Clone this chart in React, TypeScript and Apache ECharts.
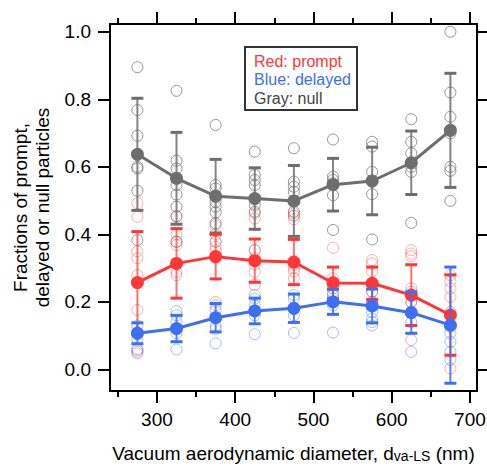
import React, { useEffect, useRef } from "react";
import * as echarts from "echarts";

// ---- data ----
const sizes = [275, 325, 375, 425, 475, 525, 575, 625, 675];

const grayMean = [0.637, 0.566, 0.513, 0.506, 0.499, 0.547, 0.558, 0.612, 0.708];
const graySd = [0.166, 0.136, 0.109, 0.091, 0.105, 0.078, 0.1, 0.094, 0.169];
const redMean = [0.257, 0.314, 0.334, 0.322, 0.318, 0.256, 0.255, 0.22, 0.161];
const redSd = [0.151, 0.103, 0.066, 0.064, 0.067, 0.047, 0.048, 0.09, 0.119];
const blueMean = [0.107, 0.121, 0.153, 0.173, 0.181, 0.2, 0.188, 0.168, 0.131];
const blueSd = [0.031, 0.039, 0.042, 0.038, 0.042, 0.037, 0.05, 0.061, 0.172];

const grayPoints = [
  [0.895, 0.768, 0.692, 0.6, 0.595, 0.529, 0.383],
  [0.825, 0.618, 0.595, 0.546, 0.518, 0.482, 0.454, 0.378],
  [0.724, 0.546, 0.536, 0.496, 0.482, 0.465, 0.433, 0.378],
  [0.645, 0.576, 0.561, 0.546, 0.487, 0.467, 0.353],
  [0.655, 0.556, 0.541, 0.526, 0.497, 0.467, 0.455],
  [0.681, 0.571, 0.561, 0.551, 0.516, 0.413],
  [0.674, 0.66, 0.585, 0.558, 0.519, 0.385],
  [0.741, 0.674, 0.64, 0.6, 0.585, 0.434],
  [1.0, 0.82, 0.748, 0.699, 0.6, 0.588, 0.499],
];
const redPoints = [
  [0.492, 0.452, 0.35, 0.329, 0.279, 0.176, 0.057, 0.047],
  [0.452, 0.4, 0.378, 0.368, 0.289, 0.279],
  [0.427, 0.4, 0.363, 0.353, 0.33, 0.2],
  [0.462, 0.447, 0.33, 0.31, 0.289, 0.25],
  [0.462, 0.445, 0.31, 0.3, 0.29, 0.27],
  [0.36, 0.27, 0.26, 0.25, 0.24, 0.225],
  [0.324, 0.314, 0.29, 0.25, 0.23, 0.2],
  [0.353, 0.343, 0.335, 0.24, 0.2, 0.087],
  [0.279, 0.26, 0.24, 0.215, 0.003],
];
const bluePoints = [
  [0.13, 0.11, 0.09, 0.06, 0.052],
  [0.173, 0.16, 0.14, 0.107, 0.059],
  [0.19, 0.175, 0.13, 0.12, 0.077],
  [0.22, 0.21, 0.19, 0.16, 0.104],
  [0.22, 0.21, 0.18, 0.16, 0.108],
  [0.22, 0.21, 0.19, 0.109],
  [0.23, 0.2, 0.17, 0.15, 0.14, 0.13],
  [0.23, 0.2, 0.17, 0.14, 0.052],
  [0.17, 0.126, 0.107, 0.082, 0.052, 0.028],
];

const xMajorTicks = [300, 400, 500, 600, 700];
const xMinorTicks = [250, 350, 450, 550, 650];
const yTicks = [0, 0.2, 0.4, 0.6, 0.8, 1.0];

const legendLines = ["Red: prompt", "Blue: delayed", "Gray: null"];

// ---- styles ----
const FONT = "'Liberation Sans', Arial, Helvetica, sans-serif";
const RED = "#ff3636";
const BLUE = "#3d6ff3";
const GRAY = "#6e6e6e";
const RED_PT = "rgba(255,70,70,0.55)";
const BLUE_PT = "rgba(60,110,245,0.55)";
const GRAY_PT = "#7c7c7c";
const X_MIN = 240;
const X_MAX = 709;
const Y_MIN = -0.064;
const Y_MAX = 1.023;

const pts = (arr: number[][]) =>
  sizes.flatMap((x, i) => arr[i].map((v) => [x, v]));

const scatterSeries = (name: string, arr: number[][], color: string) => ({
  name,
  type: "scatter",
  data: pts(arr),
  symbol: "circle",
  symbolSize: 11,
  itemStyle: { color: "rgba(0,0,0,0)", borderColor: color, borderWidth: 1 },
  z: 2,
});

const errSeries = (name: string, mean: number[], sd: number[], color: string, z: number, stemOpacity: number) => ({
  name,
  type: "custom",
  data: sizes.map((x, i) => [x, mean[i], sd[i]]),
  encode: { x: 0, y: 1 },
  z,
  renderItem: (params: any, api: any) => {
    const x = api.value(0);
    const m = api.value(1);
    const s = api.value(2);
    const top = api.coord([x, m + s]);
    const bot = api.coord([x, m - s]);
    const hw = 6;
    return {
      type: "group",
      children: [
        { type: "line", shape: { x1: top[0], y1: top[1], x2: bot[0], y2: bot[1] }, style: { stroke: color, lineWidth: 2, opacity: stemOpacity } },
        { type: "line", shape: { x1: top[0] - hw, y1: top[1], x2: top[0] + hw, y2: top[1] }, style: { stroke: color, lineWidth: 3 } },
        { type: "line", shape: { x1: bot[0] - hw, y1: bot[1], x2: bot[0] + hw, y2: bot[1] }, style: { stroke: color, lineWidth: 3 } },
      ],
    };
  },
});

const meanSeries = (name: string, mean: number[], color: string, z: number) => ({
  name,
  type: "line",
  data: sizes.map((x, i) => [x, mean[i]]),
  symbol: "circle",
  symbolSize: 13,
  showSymbol: true,
  lineStyle: { color, width: 3 },
  itemStyle: { color },
  z,
});

const axisLineStyle = { show: true, onZero: false, lineStyle: { color: "#000", width: 2 } };

export default function App() {
  const ref = useRef<HTMLDivElement>(null);
  useEffect(() => {
    if (!ref.current) return;
    const chart = echarts.init(ref.current, undefined, { renderer: "svg" });
    const baseX = { type: "value", min: X_MIN, max: X_MAX, splitLine: { show: false } };
    chart.setOption({
      animation: false,
      backgroundColor: "#fff",
      grid: { left: 110, right: 10, top: 24, bottom: 76, containLabel: false, outerBoundsMode: "none" },
      xAxis: [
        {
          ...baseX,
          position: "bottom",
          axisLine: axisLineStyle,
          axisTick: { show: true, length: 12, lineStyle: { color: "#000", width: 2 }, customValues: xMajorTicks },
          axisLabel: { show: true, customValues: xMajorTicks, margin: 19, fontSize: 19, fontFamily: FONT, color: "#000" },
          name: "Vacuum aerodynamic diameter, d{sub|va-LS} (nm)",
          nameLocation: "middle",
          nameGap: 53,
          nameTextStyle: {
            fontSize: 19,
            fontFamily: FONT,
            color: "#000",
            rich: { sub: { fontSize: 14, fontFamily: FONT, color: "#000", verticalAlign: "bottom", lineHeight: 11 } },
          },
        },
        {
          ...baseX,
          position: "bottom",
          axisLine: { show: false, onZero: false },
          axisTick: { show: true, length: 6, lineStyle: { color: "#000", width: 2 }, customValues: xMinorTicks },
          axisLabel: { show: false },
        },
        {
          ...baseX,
          position: "top",
          axisLine: axisLineStyle,
          axisTick: { show: true, length: 12, lineStyle: { color: "#000", width: 2 }, customValues: xMajorTicks },
          axisLabel: { show: false },
        },
        {
          ...baseX,
          position: "top",
          axisLine: { show: false, onZero: false },
          axisTick: { show: true, length: 6, lineStyle: { color: "#000", width: 2 }, customValues: xMinorTicks },
          axisLabel: { show: false },
        },
      ],
      yAxis: [
        {
          type: "value",
          min: Y_MIN,
          max: Y_MAX,
          position: "left",
          splitLine: { show: false },
          axisLine: axisLineStyle,
          axisTick: { show: true, length: 12, lineStyle: { color: "#000", width: 2 }, customValues: yTicks },
          axisLabel: {
            show: true,
            customValues: yTicks,
            margin: 19,
            fontSize: 19,
            fontFamily: FONT,
            color: "#000",
            formatter: (v: number) => v.toFixed(1),
          },
          name: "Fractions of prompt,\ndelayed or null particles",
          nameLocation: "middle",
          nameRotate: 90,
          nameGap: 54,
          nameTextStyle: { fontSize: 19, fontFamily: FONT, color: "#000", lineHeight: 22 },
        },
        {
          type: "value",
          min: Y_MIN,
          max: Y_MAX,
          position: "right",
          splitLine: { show: false },
          axisLine: axisLineStyle,
          axisTick: { show: true, length: 12, lineStyle: { color: "#000", width: 2 }, customValues: yTicks },
          axisLabel: { show: false },
        },
      ],
      series: [
        scatterSeries("gray pts", grayPoints, GRAY_PT),
        scatterSeries("red pts", redPoints, RED_PT),
        scatterSeries("blue pts", bluePoints, BLUE_PT),
        errSeries("gray err", grayMean, graySd, GRAY, 3, 0.85),
        meanSeries("null", grayMean, GRAY, 4),
        errSeries("red err", redMean, redSd, RED, 5, 0.7),
        meanSeries("prompt", redMean, RED, 6),
        errSeries("blue err", blueMean, blueSd, BLUE, 7, 0.85),
        meanSeries("delayed", blueMean, BLUE, 8),
      ],
      graphic: [
        {
          type: "group",
          left: 244,
          top: 46,
          children: [
            { type: "rect", shape: { x: 0, y: 0, width: 112, height: 63 }, style: { fill: "#fff", stroke: "#333", lineWidth: 2 } },
            ...legendLines.map((t, i) => ({
              type: "text",
              x: 9,
              y: 14 + i * 18.5,
              style: {
                text: t,
                fill: [RED, BLUE, "#444"][i],
                fontSize: 16,
                fontFamily: FONT,
                verticalAlign: "middle",
                align: "left",
              },
            })),
          ],
        },
      ],
    });
    return () => chart.dispose();
  }, []);
  return (
    <div
      ref={ref}
      style={{ position: "fixed", left: 0, top: 0, width: 487, height: 467, background: "#fff" }}
    />
  );
}
